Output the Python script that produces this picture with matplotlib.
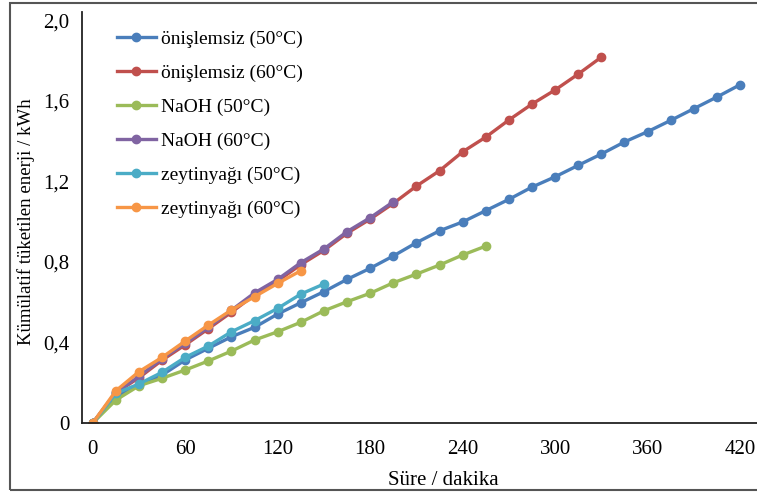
import matplotlib
matplotlib.use("Agg")
import matplotlib.pyplot as plt
from matplotlib.patches import Rectangle
from matplotlib.ticker import FuncFormatter

plt.rcParams['font.family'] = ['Liberation Serif', 'DejaVu Serif']

# time axis in minutes, one reading every 15 min
t_blue = list(range(0, 421, 15))
t_red = list(range(0, 331, 15))
t_green = list(range(0, 256, 15))
t_purple = list(range(0, 196, 15))
t_cyan = list(range(0, 151, 15))
t_orange = list(range(0, 136, 15))

# cumulative energy, kWh
onislemsiz_50 = [0, 0.131, 0.189, 0.238, 0.313, 0.371, 0.428, 0.475, 0.541, 0.597,
                 0.652, 0.713, 0.768, 0.829, 0.895, 0.954, 0.998, 1.054, 1.110, 1.171,
                 1.222, 1.279, 1.335, 1.395, 1.446, 1.502, 1.560, 1.618, 1.679]
onislemsiz_60 = [0, 0.150, 0.225, 0.312, 0.388, 0.468, 0.550, 0.636, 0.705, 0.786,
                 0.857, 0.942, 1.012, 1.090, 1.176, 1.252, 1.346, 1.419, 1.504, 1.583,
                 1.653, 1.732, 1.816]
naoh_50 = [0, 0.114, 0.185, 0.222, 0.263, 0.308, 0.357, 0.412, 0.453, 0.500,
           0.557, 0.602, 0.644, 0.696, 0.739, 0.784, 0.834, 0.878]
naoh_60 = [0, 0.152, 0.231, 0.320, 0.395, 0.475, 0.560, 0.646, 0.713, 0.796,
           0.864, 0.950, 1.019, 1.098]
zeytinyagi_50 = [0, 0.147, 0.194, 0.252, 0.326, 0.382, 0.453, 0.508, 0.569, 0.640, 0.690]
zeytinyagi_60 = [0, 0.160, 0.255, 0.326, 0.407, 0.486, 0.561, 0.627, 0.693, 0.756]

series = [
    (t_blue, onislemsiz_50, '#4A7EBB', 'önişlemsiz (50°C)'),
    (t_red, onislemsiz_60, '#C0504D', 'önişlemsiz (60°C)'),
    (t_green, naoh_50, '#9BBB59', 'NaOH (50°C)'),
    (t_purple, naoh_60, '#8064A2', 'NaOH (60°C)'),
    (t_cyan, zeytinyagi_50, '#4BACC6', 'zeytinyağı (50°C)'),
    (t_orange, zeytinyagi_60, '#F79646', 'zeytinyağı (60°C)'),
]

fig = plt.figure(figsize=(7.57, 4.93), dpi=100)
ax = fig.add_axes([82 / 757, 70 / 493, 675 / 757, 411 / 493])

for x, y, c, lab in series:
    ax.plot(x, y, color=c, lw=2.4, marker='o', ms=6, label=lab)

ax.set_xlim(-7, 431)
ax.set_ylim(0, 2.04)
ax.set_xticks(range(0, 421, 60))
ax.set_yticks([0, 0.4, 0.8, 1.2, 1.6, 2.0])
ax.yaxis.set_major_formatter(FuncFormatter(
    lambda v, p: '0' if v == 0 else f'{v:.1f}'.replace('.', ',')))
ax.tick_params(axis='both', length=0, labelsize=15)
ax.tick_params(axis='y', pad=9)
ax.tick_params(axis='x', pad=12)

for s in ['top', 'right']:
    ax.spines[s].set_visible(False)
for s in ['left', 'bottom']:
    ax.spines[s].set_color('#222222')
    ax.spines[s].set_linewidth(1.3)

ax.set_xlabel('Süre / dakika', fontsize=15)
ax.xaxis.set_label_coords(0.536, -0.118)
ax.set_ylabel('Kümülatif tüketilen enerji / kWh', fontsize=13.5)
ax.yaxis.set_label_coords(-0.07, 0.489)

ax.legend(loc='upper left', bbox_to_anchor=(0.04, 0.975), frameon=False,
          fontsize=14, handlelength=2.0, handletextpad=0.25, labelspacing=0.84,
          borderaxespad=0)

# chart frame
fig.patches.append(Rectangle((10 / 757, 3 / 493), 1.0, 487 / 493,
                             transform=fig.transFigure, fill=False,
                             edgecolor='#555555', lw=1.5))

fig.savefig('out.png', dpi=100)
